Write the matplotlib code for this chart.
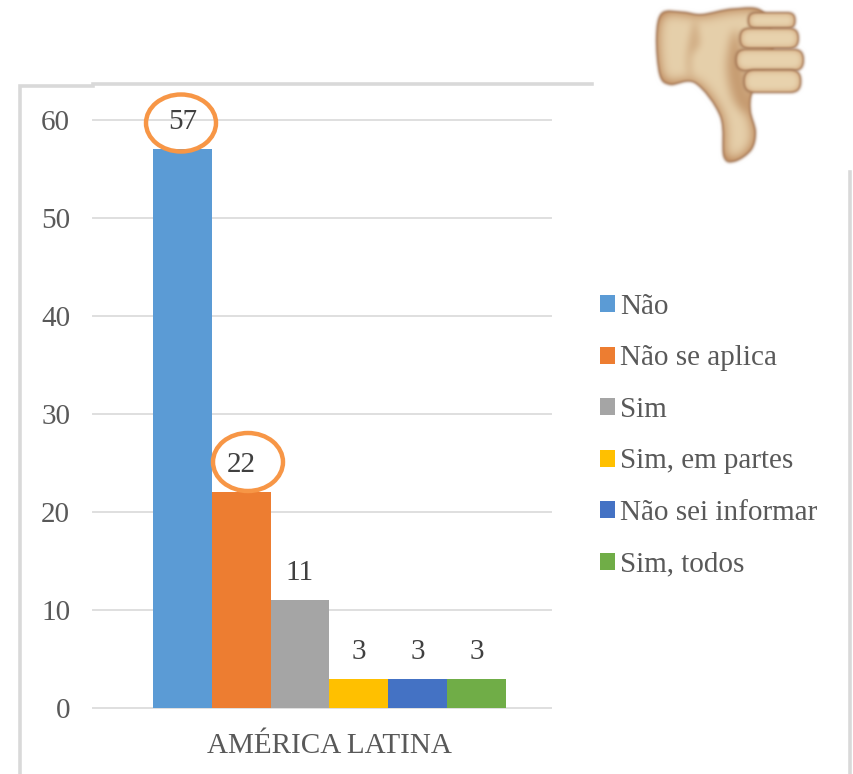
import numpy as np
import matplotlib.pyplot as plt
from matplotlib.patches import Ellipse, FancyBboxPatch, PathPatch
from matplotlib.path import Path

plt.rcParams['font.family'] = ['Liberation Serif', 'DejaVu Serif']

# chart data
categories = ['AMÉRICA LATINA']
labels = ['Não', 'Não se aplica', 'Sim', 'Sim, em partes', 'Não sei informar', 'Sim, todos']
values = [57, 22, 11, 3, 3, 3]
colors = ['#5B9BD5', '#ED7D31', '#A5A5A5', '#FFC000', '#4472C4', '#70AD47']
yticks = [0, 10, 20, 30, 40, 50, 60]

W, H = 854, 774
TEXT = '#595959'
GRID = '#dfdfdf'
FS = 21

fig = plt.figure(figsize=(W / 100, H / 100), dpi=100)

# plot area, placed in pixels
ax = fig.add_axes([93 / W, (H - 708) / H, 458 / W, 588 / H])
ax.set_xlim(-0.516, 0.484)
ax.set_ylim(0, 60)
ax.patch.set_alpha(0)

bar_w = 58.8 / 458
bars = []
for i, (lab, val, col) in enumerate(zip(labels, values, colors)):
    b = ax.bar((i - 2.5) * bar_w, val, bar_w, color=col, label=lab, zorder=3)
    bars.append(b)
    ax.annotate(str(val), ((i - 2.5) * bar_w, val), xytext=(0, 19.5), textcoords='offset points',
                ha='center', va='center', fontsize=FS, color='#404040', zorder=4)

ax.set_yticks(yticks)
ax.set_xticks([0])
ax.set_xticklabels(categories, fontsize=FS, color=TEXT)
ax.tick_params(axis='y', length=0, labelsize=FS, labelcolor=TEXT, pad=16.5)
ax.tick_params(axis='x', length=0, pad=18)
ax.grid(axis='y', color=GRID, lw=1.4, zorder=0)
for gl in ax.get_ygridlines():
    gl.set_clip_on(False)
for s in ['top', 'right', 'left']:
    ax.spines[s].set_visible(False)
ax.spines['bottom'].set_color(GRID)
ax.spines['bottom'].set_linewidth(1.4)

leg = fig.legend(handles=[b[0] for b in bars], labels=labels, loc='upper left',
                 bbox_to_anchor=(600 / W, 1 - 294 / H), frameon=False, fontsize=FS,
                 labelcolor=TEXT, handlelength=0.52, handleheight=0.52, handletextpad=0.17,
                 labelspacing=0.874, borderpad=0, borderaxespad=0)

# overlay in pixel coords for the frame, the circles and the thumb picture
ov = fig.add_axes([0, 0, 1, 1])
ov.set_xlim(0, W)
ov.set_ylim(H, 0)
ov.axis('off')
ov.patch.set_alpha(0)

frame = '#d9d9d9'
ov.plot([20, 20, 93], [774, 86, 86], color=frame, lw=2.6, solid_joinstyle='miter')
ov.plot([93, 592], [84, 84], color=frame, lw=2.6)
ov.plot([850, 850], [172, 774], color=frame, lw=2.6)

ov.add_patch(Ellipse((181, 123), 70, 57, fill=False, ec='#F79646', lw=3.2, zorder=5))
ov.add_patch(Ellipse((248, 462), 70, 58, fill=False, ec='#F79646', lw=3.2, zorder=5))


# thumb picture: shapes are given in the coords of the 3x crop
BOX = (640, 820, 180, 0)


def smooth(points):
    # closed catmull-rom through the outline points
    p = np.array(points, float)
    n = len(p)
    verts = [p[0]]
    codes = [Path.MOVETO]
    for i in range(n):
        p0, p1, p2, p3 = p[i - 1], p[i], p[(i + 1) % n], p[(i + 2) % n]
        verts += [p1 + (p2 - p0) / 6, p2 - (p3 - p1) / 6, p2]
        codes += [Path.CURVE4] * 3
    return Path(verts, codes)


def zoomed(points):
    return [(620 + x / 3 - BOX[0], y / 3) for x, y in points]


def mask_of(make_patch):
    f = plt.figure(figsize=(1.8, 1.8), dpi=100)
    a = f.add_axes([0, 0, 1, 1])
    a.set_xlim(0, 180)
    a.set_ylim(180, 0)
    a.axis('off')
    a.add_patch(make_patch())
    f.canvas.draw()
    m = 1 - np.asarray(f.canvas.buffer_rgba())[:, :, 0] / 255.0
    plt.close(f)
    return m


def blur(m, r):
    k = np.ones(2 * r + 1) / (2 * r + 1)
    for _ in range(3):
        m = np.apply_along_axis(lambda v: np.convolve(v, k, mode='same'), 0, m)
        m = np.apply_along_axis(lambda v: np.convolve(v, k, mode='same'), 1, m)
    return m


def rgb(h):
    return np.array([int(h[i:i + 2], 16) / 255 for i in (1, 3, 5)])


def paint(img, make_patch, r, dark='#c4956a', light='#ecdab6', edge='#9c7050', gain=1.7):
    # soft outline, then a fill going from dark at the rim to light in the middle
    m = mask_of(make_patch)
    ms = blur(m, 1)[:, :, None]
    img = img * (1 - ms) + rgb(edge) * ms
    inner = np.clip((blur(m, r) - 0.5) * gain, 0, 1)[:, :, None]
    col = rgb(dark) + (rgb(light) - rgb(dark)) * inner
    ms2 = ms ** 3
    return img * (1 - ms2) + col * ms2


def shade(img, make_patch, r, amount):
    m = blur(mask_of(make_patch), r)[:, :, None] * amount
    return img * (1 - m) + rgb('#b98659') * m


hand = zoomed([(125, 38), (190, 35), (245, 42), (340, 25), (430, 35), (460, 150), (400, 270),
               (392, 330), (408, 395), (395, 450), (345, 485), (310, 470), (300, 350),
               (225, 250), (150, 255), (118, 225), (108, 110)])
crease = zoomed([(225, 60), (240, 130), (215, 170), (215, 240), (200, 200), (205, 130)])
by_fingers = zoomed([(350, 90), (385, 280), (385, 340), (340, 300), (320, 190)])
fingers = [(383, 36, 527, 87), (358, 83, 537, 147), (346, 146, 552, 214), (370, 208, 544, 279)]

img = np.ones((180, 180, 3))
img = paint(img, lambda: PathPatch(smooth(hand), fc='k', ec='none'), 6)
hand_mask = blur(mask_of(lambda: PathPatch(smooth(hand), fc='k', ec='none')), 1)[:, :, None]
shaded = shade(shade(img, lambda: PathPatch(smooth(crease), fc='k', ec='none'), 3, 0.45),
               lambda: PathPatch(smooth(by_fingers), fc='k', ec='none'), 4, 0.7)
img = img * (1 - hand_mask) + shaded * hand_mask

for x0, y0, x1, y1 in fingers:
    bx, by = 620 + x0 / 3 - BOX[0], y0 / 3
    bw, bh = (x1 - x0) / 3, (y1 - y0) / 3
    rr = bh * 0.45
    img = paint(img, lambda: FancyBboxPatch((bx + rr, by + rr), bw - 2 * rr, bh - 2 * rr,
                                            boxstyle='round,pad=%f,rounding_size=%f' % (rr, rr),
                                            fc='k', ec='none'), 3, dark='#d2a87e')

ov.imshow(img, extent=BOX, aspect='auto', zorder=6, interpolation='bilinear')
ov.set_xlim(0, W)
ov.set_ylim(H, 0)

fig.savefig('out.png', dpi=100)
